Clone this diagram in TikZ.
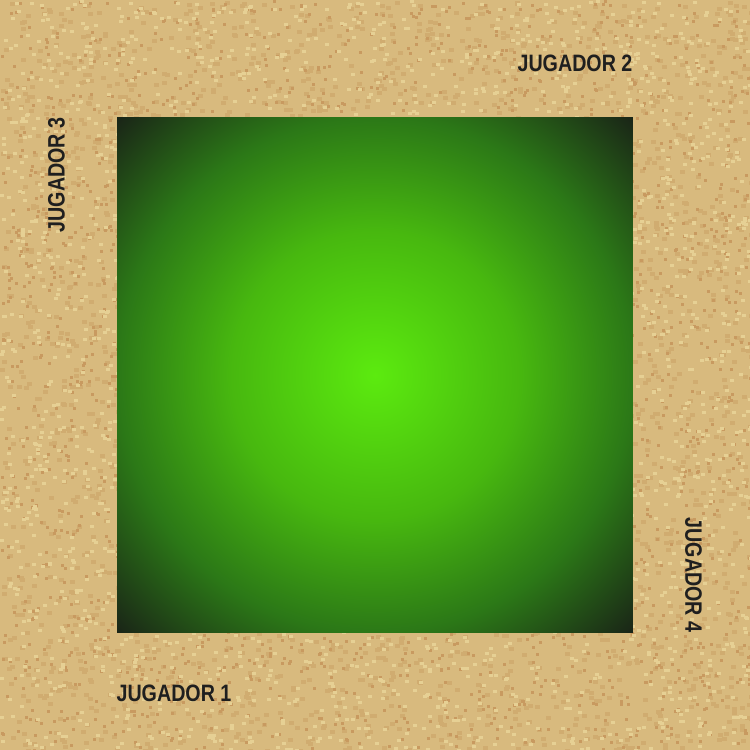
\documentclass[tikz,border=0pt]{standalone}
\usepackage{graphicx}
\usepackage{fontspec}
\setmainfont{Liberation Sans}
\usepackage{tikz}
\usetikzlibrary{positioning,calc}

\definecolor{sand}{RGB}{216,186,126}
\definecolor{sandlight}{RGB}{230,208,148}
\definecolor{sanddark}{RGB}{200,154,96}
\definecolor{sandmid}{RGB}{208,172,112}

\pgfdeclareradialshading{feltglow}{\pgfpoint{0bp}{0bp}}{%
  rgb(0bp)=(0.36,0.92,0.06);
  rgb(14bp)=(0.28,0.72,0.06);
  rgb(25bp)=(0.17,0.47,0.09);
  rgb(35.4bp)=(0.10,0.14,0.09);
  rgb(50bp)=(0.10,0.14,0.09)}

\newcommand{\narrowtext}[1]{\scalebox{0.83}[1]{#1}}

\begin{document}
\begin{tikzpicture}[
    x=0.02cm,
    y=-0.02cm,
    player/.style={
        font=\fontsize{13.5}{15}\selectfont\bfseries,
        text=black!88,
        inner sep=0pt
      }
    ]

    \useasboundingbox (0,0) rectangle (750,750);

    % sand border
    \fill[sand] (0,0) rectangle (750,750);
    \begin{scope}
      \clip (0,0) rectangle (750,750);
      \pgfmathsetseed{17}
      \foreach \i in {1,...,3000}{
        \fill[sandmid] ({750*rnd},{750*rnd}) rectangle ++(5,4);
      }
      \foreach \i in {1,...,2500}{
        \fill[sanddark] ({750*rnd},{750*rnd}) rectangle ++(3,3);
      }
      \foreach \i in {1,...,3000}{
        \fill[sandlight] ({750*rnd},{750*rnd}) rectangle ++(4,3);
      }
    \end{scope}

    % table
    \node[draw=none, shading=feltglow, minimum width=10.32cm, minimum height=10.32cm,
          inner sep=0pt] (field) at (375,375) {};

    % players
    \node[player] (p1) at (174,693) {\narrowtext{JUGADOR 1}};
    \node[player] (p2) at (575,63.5) {\narrowtext{JUGADOR 2}};
    \node[player, rotate=90] (p3) at (56.5,175) {\narrowtext{JUGADOR 3}};
    \node[player, rotate=-90] (p4) at (693.5,575) {\narrowtext{JUGADOR 4}};

  \end{tikzpicture}
\end{document}
